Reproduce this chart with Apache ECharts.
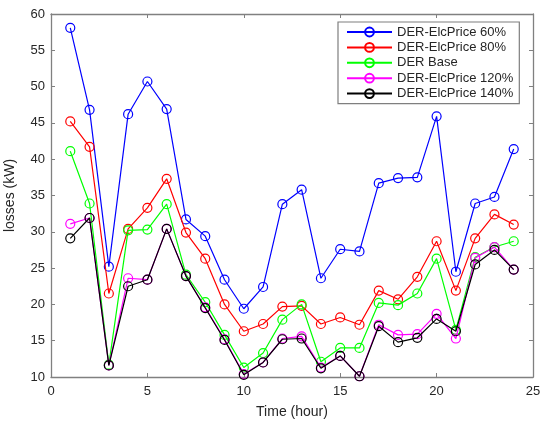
<!DOCTYPE html>
<html>
<head>
<meta charset="utf-8">
<script src="https://cdn.jsdelivr.net/npm/echarts@6/dist/echarts.min.js"></script>
<style>html,body{margin:0;padding:0;background:#fff;}#c{width:540px;height:424px;}</style>
</head>
<body>
<div id="c"></div>
<script>
const hours = [1,2,3,4,5,6,7,8,9,10,11,12,13,14,15,16,17,18,19,20,21,22,23,24];
const seriesNames = ['DER-ElcPrice 60%','DER-ElcPrice 80%','DER Base','DER-ElcPrice 120%','DER-ElcPrice 140%'];
const price60  = [58.1,46.8,25.2,46.2,50.7,46.9,31.7,29.4,23.4,19.4,22.4,33.8,35.8,23.6,27.6,27.3,36.7,37.4,37.5,45.9,24.5,33.9,34.8,41.4];
const price80  = [45.2,41.7,21.5,30.4,33.3,37.3,29.9,26.3,20.0,16.3,17.3,19.7,19.8,17.3,18.2,17.2,21.9,20.7,23.8,28.7,21.9,29.1,32.4,31.0];
const base     = [41.1,33.9,11.7,30.2,30.3,33.8,24.1,20.3,15.8,11.3,13.3,17.9,20.0,12.1,14.0,14.0,20.2,19.9,21.5,26.3,16.5,26.5,27.9,28.7];
const price120 = [31.1,31.9,11.6,23.6,23.4,30.4,23.9,19.6,15.2,10.4,12.0,15.3,15.6,11.3,12.9,10.1,17.2,15.8,15.9,18.7,15.3,26.4,27.9,24.8];
const price140 = [29.1,31.9,11.6,22.5,23.4,30.4,23.9,19.5,15.1,10.3,12.0,15.2,15.3,11.2,12.9,10.1,17.0,14.8,15.4,18.0,16.3,25.5,27.5,24.8];
const xTicks = {min:0, max:25, interval:5};
const yTicks = {min:10, max:60, interval:5};

const colors = ['#0000ff','#ff0000','#00ff00','#ff00ff','#000000'];
const allData = [price60, price80, base, price120, price140];
const axisGrey = '#808080';
const txt = '#262626';
const font = 'Liberation Sans, Arial, sans-serif';

function mkSeries(i){
  return {
    name: seriesNames[i], type:'line', xAxisIndex:0, yAxisIndex:0,
    data: hours.map((h,k)=>[h, allData[i][k]]),
    symbol:'circle', symbolSize:9, showSymbol:true,
    lineStyle:{color:colors[i], width:1.2},
    itemStyle:{color:'rgba(255,255,255,0)', borderColor:colors[i], borderWidth:1.2},
    emphasis:{disabled:true}, animation:false, z: 2+i
  };
}

const baseAxis = {
  axisLine:{show:true, onZero:false, lineStyle:{color:axisGrey, width:1.3}},
  axisTick:{show:true, inside:true, length:4, lineStyle:{color:axisGrey}},
  splitLine:{show:false}
};

const chart = echarts.init(document.getElementById('c'), null, {renderer:'canvas'});
chart.setOption({
  backgroundColor:'#fff',
  animation:false,
  grid:{left:51, right:7, top:14, bottom:47, containLabel:false, outerBoundsMode:'none'},
  legend:{
    orient:'vertical', left:338, top:22, width:182,
    padding:[3,6,3,8], itemGap:1.4, itemWidth:45, itemHeight:11,
    borderColor:'#7f7f7f', borderWidth:1.2, backgroundColor:'#fff',
    textStyle:{fontFamily:font, fontSize:13, color:txt, lineHeight:14, padding:[0,0,0,0]},
    data: seriesNames
  },
  xAxis:[
    Object.assign({}, baseAxis, {type:'value', position:'bottom', min:xTicks.min, max:xTicks.max, interval:xTicks.interval,
      name:'Time (hour)', nameLocation:'middle', nameGap:28,
      nameTextStyle:{fontFamily:font, fontSize:14, color:txt},
      axisLabel:{fontFamily:font, fontSize:13, color:txt, margin:8}}),
    Object.assign({}, baseAxis, {type:'value', position:'top', min:xTicks.min, max:xTicks.max, interval:xTicks.interval,
      axisLabel:{show:false}})
  ],
  yAxis:[
    Object.assign({}, baseAxis, {type:'value', position:'left', min:yTicks.min, max:yTicks.max, interval:yTicks.interval,
      name:'losses (kW)', nameLocation:'middle', nameGap:34,
      nameTextStyle:{fontFamily:font, fontSize:14, color:txt},
      axisLabel:{fontFamily:font, fontSize:13, color:txt, margin:6}}),
    Object.assign({}, baseAxis, {type:'value', position:'right', min:yTicks.min, max:yTicks.max, interval:yTicks.interval,
      axisLabel:{show:false}})
  ],
  series: [0,1,2,3,4].map(mkSeries)
});
</script>
</body>
</html>
